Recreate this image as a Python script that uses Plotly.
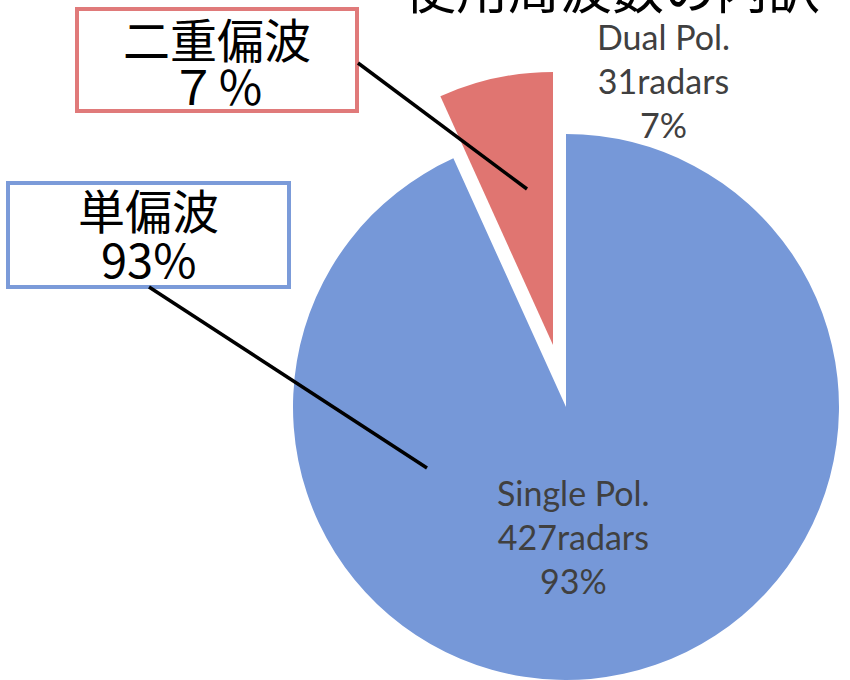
import plotly.graph_objects as go

# ---- data ----
categories = ["Single Pol.", "Dual Pol."]
radar_counts = [427, 31]
jp_labels = ["単偏波", "二重偏波"]
jp_percent_text = ["93%", "７％"]
title_text = "使用周波数の内訳"

total = sum(radar_counts)
percents = [round(100 * v / total) for v in radar_counts]

BLUE = "#7698D8"
RED = "#E07571"
CLEAR = "rgba(0,0,0,0)"

W, H = 850, 680
R = 273
CX, CY = 566, 407          # centre of the main pie (px)
PX, PY = -13, -62          # offset of the exploded slice (px)


def dom(cx, cy, r=R):
    return dict(x=[(cx - r) / W, (cx + r) / W],
                y=[(H - cy - r) / H, (H - cy + r) / H])


fig = go.Figure()
# main (single pol.) pie
fig.add_trace(go.Pie(
    labels=categories, values=radar_counts, sort=False,
    direction="clockwise", rotation=0,
    marker=dict(colors=[BLUE, CLEAR], line=dict(width=0)),
    textinfo="none", hoverinfo="label+value+percent",
    domain=dom(CX, CY), showlegend=False,
))
# exploded (dual pol.) slice
fig.add_trace(go.Pie(
    labels=categories, values=radar_counts, sort=False,
    direction="clockwise", rotation=0,
    marker=dict(colors=[CLEAR, RED], line=dict(width=0)),
    textinfo="none", hoverinfo="label+value+percent",
    domain=dom(CX + PX, CY + PY), showlegend=False,
))

LBL_FONT = dict(family="Lato, 'Open Sans', sans-serif", size=34, color="#404040")
JP_FONT = dict(family="'Noto Sans CJK JP', sans-serif", size=47, color="#000000")

annotations = []
# data labels
label_pos = {0: (573, 536), 1: (663, 80)}
for i, cat in enumerate(categories):
    x, y = label_pos[i]
    annotations.append(dict(
        text=f"{cat}<br>{radar_counts[i]}radars<br>{percents[i]}%",
        x=x / W, y=1 - y / H, xref="paper", yref="paper",
        xanchor="center", yanchor="middle", showarrow=False, font=LBL_FONT,
    ))

# callout boxes
boxes = [
    dict(x0=8, y0=183, x1=289, y1=287, color="#7B9BD9", ty=(208, 257)),
    dict(x0=77, y0=9, x1=357, y1=111, color="#E07A7A", ty=(37, 84)),
]
shapes = []
for i, b in enumerate(boxes):
    shapes.append(dict(type="rect", xref="paper", yref="paper",
                       x0=b["x0"] / W, x1=b["x1"] / W,
                       y0=1 - b["y0"] / H, y1=1 - b["y1"] / H,
                       line=dict(color=b["color"], width=4), fillcolor="white"))
    cx = (b["x0"] + b["x1"]) / 2
    for txt, ty in zip([jp_labels[i], jp_percent_text[i]], b["ty"]):
        annotations.append(dict(text=txt, x=cx / W, y=1 - ty / H,
                                xref="paper", yref="paper", xanchor="center",
                                yanchor="middle", showarrow=False, font=JP_FONT))

# leader lines
leaders = [((358, 63), (527, 189)), ((149, 287), (427, 468))]
for (xa, ya), (xb, yb) in leaders:
    shapes.append(dict(type="line", xref="paper", yref="paper",
                       x0=xa / W, y0=1 - ya / H, x1=xb / W, y1=1 - yb / H,
                       line=dict(color="black", width=3.5)))

# title (mostly cut off at top)
annotations.append(dict(text=title_text, x=612 / W, y=1, xref="paper", yref="paper",
                        xanchor="center", yanchor="middle", yshift=14, showarrow=False,
                        font=dict(family="'Noto Sans CJK JP', sans-serif", size=52,
                                  color="#000000")))

fig.update_layout(
    width=W, height=H, margin=dict(l=0, r=0, t=0, b=0),
    paper_bgcolor="white", plot_bgcolor="white",
    shapes=shapes, annotations=annotations, showlegend=False,
)

fig.write_html("out.html", config={"displayModeBar": False},
               post_script="document.body.style.margin='0';")
